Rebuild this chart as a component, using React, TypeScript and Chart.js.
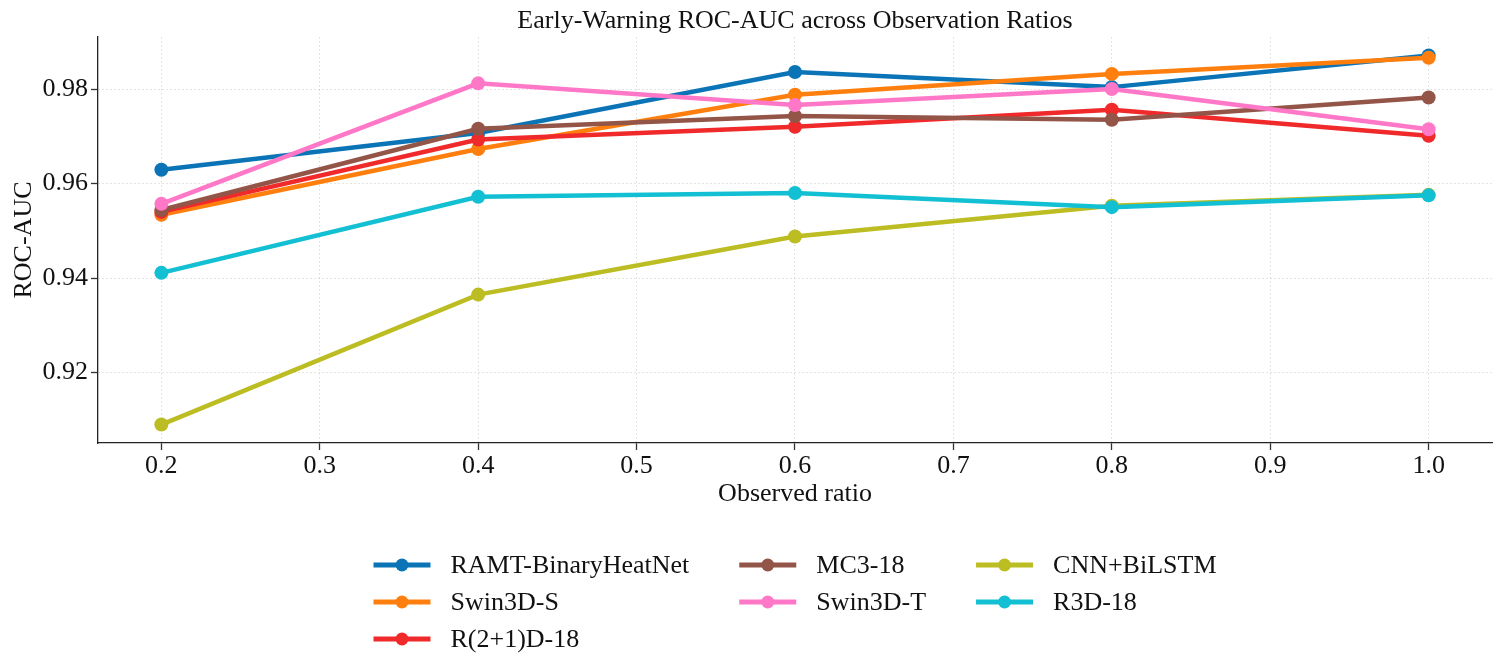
import React, { useEffect, useRef } from "react";
import { Chart, registerables } from "chart.js";

Chart.register(...registerables);

// Observation ratios on the x axis
const ratios = [0.2, 0.4, 0.6, 0.8, 1.0];
const xTicks = [0.2, 0.3, 0.4, 0.5, 0.6, 0.7, 0.8, 0.9, 1.0];
const yTicks = [0.92, 0.94, 0.96, 0.98];

// ROC-AUC per model
const ramtBinaryHeatNet = [0.9629, 0.9707, 0.9836, 0.9804, 0.9871];
const swin3dS = [0.9534, 0.9673, 0.9788, 0.9832, 0.9866];
const r2plus1d18 = [0.954, 0.9693, 0.972, 0.9756, 0.9701];
const mc318 = [0.9544, 0.9716, 0.9743, 0.9735, 0.9782];
const swin3dT = [0.9557, 0.9812, 0.9766, 0.98, 0.9715];
const cnnBiLstm = [0.909, 0.9365, 0.9488, 0.9553, 0.9576];
const r3d18 = [0.9411, 0.9572, 0.958, 0.955, 0.9575];

const seriesNames = [
  "RAMT-BinaryHeatNet",
  "Swin3D-S",
  "R(2+1)D-18",
  "MC3-18",
  "Swin3D-T",
  "CNN+BiLSTM",
  "R3D-18",
];
const seriesValues = [ramtBinaryHeatNet, swin3dS, r2plus1d18, mc318, swin3dT, cnnBiLstm, r3d18];
const seriesColors = ["#0b74b6", "#ff7f0e", "#f02a2a", "#935548", "#ff78c8", "#bcbd22", "#13bfd2"];

const chartTitle = "Early-Warning ROC-AUC across Observation Ratios";

// Legend columns (indices into the series lists)
const legendColumns = [[0, 1, 2], [3, 4], [5, 6]];

const FONT = '"Liberation Serif", "DejaVu Serif", "Times New Roman", serif';
const W = 1505;
const H = 664;

// Title centred over the plotting area rather than the whole canvas
const titlePlugin = {
  id: "axesTitle",
  afterDraw(chart: any) {
    const ctx = chart.ctx as CanvasRenderingContext2D;
    const area = chart.chartArea;
    ctx.save();
    ctx.font = `26px ${FONT}`;
    ctx.fillStyle = "#111";
    ctx.textAlign = "center";
    ctx.textBaseline = "middle";
    ctx.fillText(chartTitle, (area.left + area.right) / 2, 21);
    ctx.restore();
  },
};

// Three-column legend below the x axis, filled column by column
const legendPlugin = {
  id: "gridLegend",
  afterDraw(chart: any) {
    const ctx = chart.ctx as CanvasRenderingContext2D;
    const area = chart.chartArea;
    const fontSize = 26;
    const handleLen = 57;
    const textGap = 20;
    const colGap = 50;
    const rowYs = [565, 602, 639];
    ctx.save();
    ctx.font = `${fontSize}px ${FONT}`;
    const colWidths = legendColumns.map(
      (col) => handleLen + textGap + Math.max(...col.map((i) => ctx.measureText(seriesNames[i]).width))
    );
    const total = colWidths.reduce((a, b) => a + b, 0) + colGap * (legendColumns.length - 1);
    let x = (area.left + area.right) / 2 - total / 2;
    legendColumns.forEach((col, ci) => {
      col.forEach((idx, ri) => {
        const y = rowYs[ri];
        const color = seriesColors[idx];
        ctx.strokeStyle = color;
        ctx.lineWidth = 5;
        ctx.lineCap = "butt";
        ctx.beginPath();
        ctx.moveTo(x, y);
        ctx.lineTo(x + handleLen, y);
        ctx.stroke();
        ctx.fillStyle = color;
        ctx.beginPath();
        ctx.arc(x + handleLen / 2, y, 6.5, 0, Math.PI * 2);
        ctx.fill();
        ctx.fillStyle = "#111";
        ctx.textAlign = "left";
        ctx.textBaseline = "middle";
        ctx.fillText(seriesNames[idx], x + handleLen + textGap, y + 1);
      });
      x += colWidths[ci] + colGap;
    });
    ctx.restore();
  },
};

export default function App() {
  const canvasRef = useRef<HTMLCanvasElement | null>(null);

  useEffect(() => {
    if (!canvasRef.current) return;
    const allValues = seriesValues.flat();
    const yLo = Math.min(...allValues);
    const yHi = Math.max(...allValues);
    const yPad = (yHi - yLo) * 0.05;
    const xPad = (ratios[ratios.length - 1] - ratios[0]) * 0.05;
    const n = seriesNames.length;

    const gridOpts = {
      color: "rgba(0,0,0,0.14)",
      lineWidth: 1,
      tickColor: "#333",
      tickLength: 7,
      tickWidth: 1.3,
    };
    const borderOpts = { display: true, color: "#222", width: 1.3, dash: [1.5, 2.5] };

    const chart = new Chart(canvasRef.current, {
      type: "line",
      data: {
        datasets: seriesNames.map((name, i) => ({
          label: name,
          data: ratios.map((r, j) => ({ x: r, y: seriesValues[i][j] })),
          borderColor: seriesColors[i],
          backgroundColor: seriesColors[i],
          pointBackgroundColor: seriesColors[i],
          pointBorderWidth: 0,
          pointRadius: 7,
          borderWidth: 4.5,
          tension: 0,
          fill: false,
          order: n - 1 - i,
        })),
      },
      options: {
        responsive: false,
        animation: false,
        layout: { padding: { top: 37, right: 13, bottom: 151, left: 0 } },
        plugins: {
          legend: { display: false },
          tooltip: { enabled: false },
          title: { display: false },
        },
        scales: {
          x: {
            type: "linear",
            min: ratios[0] - xPad,
            max: ratios[ratios.length - 1] + xPad,
            afterBuildTicks: (scale: any) => {
              scale.ticks = xTicks.map((v) => ({ value: v }));
            },
            afterFit: (scale: any) => {
              scale.height = 70;
            },
            ticks: {
              autoSkip: false,
              maxRotation: 0,
              padding: 3,
              color: "#111",
              font: { family: FONT, size: 26, lineHeight: 1 },
              callback: (v: any) => Number(v).toFixed(1),
            },
            grid: gridOpts,
            border: borderOpts,
            title: {
              display: true,
              text: "Observed ratio",
              color: "#111",
              font: { family: FONT, size: 26, lineHeight: 1.2 },
              padding: { top: 0, bottom: 3 },
            },
          },
          y: {
            type: "linear",
            min: yLo - yPad,
            max: yHi + yPad,
            afterBuildTicks: (scale: any) => {
              scale.ticks = yTicks.map((v) => ({ value: v }));
            },
            afterFit: (scale: any) => {
              scale.width = 98;
            },
            ticks: {
              padding: 3,
              color: "#111",
              font: { family: FONT, size: 26, lineHeight: 1 },
              callback: (v: any) => Number(v).toFixed(2),
            },
            grid: gridOpts,
            border: borderOpts,
            title: {
              display: true,
              text: "ROC-AUC",
              color: "#111",
              font: { family: FONT, size: 26, lineHeight: 1.2 },
              padding: { top: 9, bottom: 0 },
            },
          },
        },
      },
      plugins: [titlePlugin, legendPlugin],
    } as any);

    return () => chart.destroy();
  }, []);

  return (
    <div style={{ position: "fixed", left: 0, top: 0, width: W, height: H, background: "#fff" }}>
      <canvas ref={canvasRef} width={W} height={H} style={{ display: "block" }} />
    </div>
  );
}
